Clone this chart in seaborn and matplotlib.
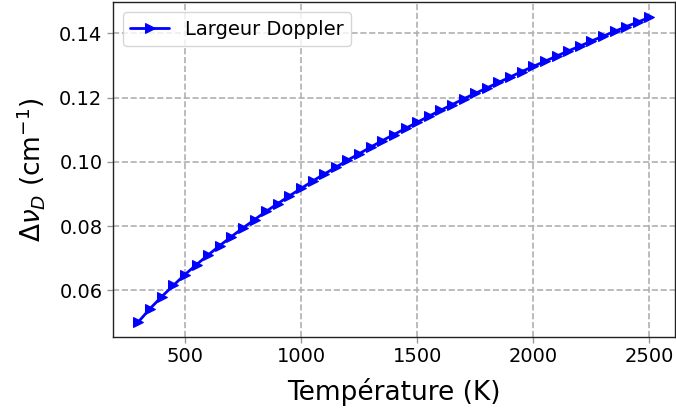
import matplotlib
matplotlib.use('Agg')
import matplotlib.pyplot as plt
import seaborn as sns
import pandas as pd

# Température (K), pas de 50 K
temperature = [300, 350, 400, 450, 500, 550, 600, 650, 700, 750,
               800, 850, 900, 950, 1000, 1050, 1100, 1150, 1200, 1250,
               1300, 1350, 1400, 1450, 1500, 1550, 1600, 1650, 1700, 1750,
               1800, 1850, 1900, 1950, 2000, 2050, 2100, 2150, 2200, 2250,
               2300, 2350, 2400, 2450, 2500]
# Largeur Doppler (cm-1)
largeur = [0.0502, 0.0543, 0.0580, 0.0615, 0.0649, 0.0680, 0.0710, 0.0739, 0.0767, 0.0794,
           0.0820, 0.0846, 0.0870, 0.0894, 0.0917, 0.0940, 0.0962, 0.0983, 0.1005, 0.1025,
           0.1046, 0.1066, 0.1085, 0.1104, 0.1123, 0.1142, 0.1160, 0.1178, 0.1196, 0.1213,
           0.1230, 0.1247, 0.1264, 0.1281, 0.1297, 0.1313, 0.1329, 0.1345, 0.1360, 0.1376,
           0.1391, 0.1406, 0.1421, 0.1435, 0.1450]

df = pd.DataFrame({'T': temperature, 'dnu': largeur})

sns.set_style('ticks')
plt.rcParams['font.family'] = ['DejaVu Sans']
plt.rcParams['text.color'] = 'black'
plt.rcParams['axes.labelcolor'] = 'black'
plt.rcParams['xtick.color'] = 'black'
plt.rcParams['ytick.color'] = 'black'

fig = plt.figure(figsize=(6.76, 4.12), dpi=100)
ax = fig.add_axes([0.167, 0.182, 0.8315, 0.813])

sns.lineplot(data=df, x='T', y='dnu', ax=ax, color='blue', marker='>',
             markersize=7, markeredgecolor='blue', linewidth=2, label='Largeur Doppler')

ax.grid(True, linestyle='--', color='#b0b0b0', linewidth=1.2)
ax.set_xticks([500, 1000, 1500, 2000, 2500])
ax.set_yticks([0.06, 0.08, 0.10, 0.12, 0.14])
ax.tick_params(labelsize=14, length=4, width=1, color='#999999', labelcolor='black')
for s in ax.spines.values():
    s.set_color('#222222')
    s.set_linewidth(1)

ax.set_xlabel('Température (K)', fontsize=19, labelpad=8)
ax.set_ylabel(r'$\Delta\nu_D$ (cm$^{-1}$)', fontsize=19, labelpad=9)
ax.legend(loc='upper left', fontsize=14, frameon=True)

plt.savefig('out.png', dpi=100)
